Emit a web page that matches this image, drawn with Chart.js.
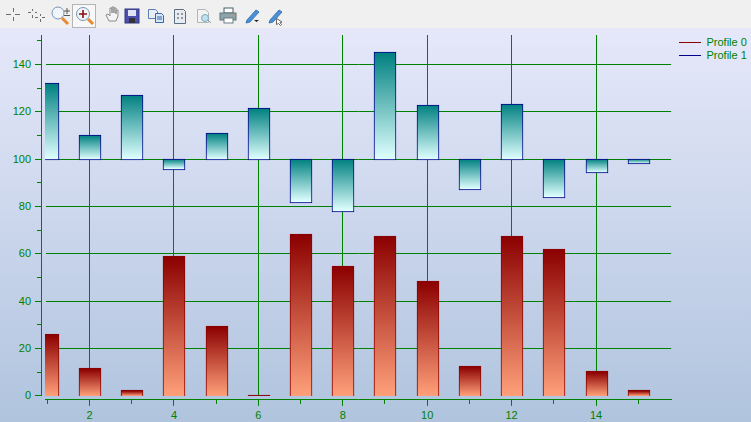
<!DOCTYPE html>
<html>
<head>
<meta charset="utf-8">
<title>Profiles</title>
<script src="https://cdn.jsdelivr.net/npm/chart.js@4/dist/chart.umd.min.js"></script>
<style>
	html, body { margin: 0; padding: 0; background: #f0f0f0; overflow: hidden; }
	#wrapper { position: relative; width: 751px; height: 422px; }
	#toolbar { position: absolute; left: 0; top: 0; }
	canvas { position: absolute; left: 0; top: 0; }
</style>
</head>
<body>
<div id="wrapper">
	<canvas id="grafico" width="751" height="422"></canvas>
	<svg id="toolbar" width="751" height="28" viewBox="0 0 751 28">
		<rect x="0" y="0" width="751" height="28" fill="#f0f0f0"/>
		<!-- cursori -->
		<g stroke="#6e6e6e" stroke-width="1" fill="none">
			<path d="M6 14.5h5M15 14.5h5M13.5 8v4M13.5 17v4"/>
			<path d="M28 12.5h3M35 12.5h2M32.5 9v2M32.5 15v3M35 17.5h3M42 17.5h3M40.5 14v2M40.5 19v3"/>
		</g>
		<!-- zoom -->
		<circle cx="58" cy="13" r="6" fill="#eef5fb" stroke="#7c95b0"/>
		<path d="M62 18l6 6" stroke="#e88a2e" stroke-width="3"/>
		<path d="M64 11h6M67 8v6M64 15.5h6" stroke="#555" fill="none"/>
		<rect x="72.5" y="4.5" width="23" height="23" fill="#f8f8f8" stroke="#b4b4b4"/>
		<circle cx="83" cy="14" r="6.5" fill="#eef5fb" stroke="#7c95b0"/>
		<path d="M79 14h8M83 10v8" stroke="#8b1010" stroke-width="1.6"/>
		<path d="M88 19l5 5" stroke="#e88a2e" stroke-width="3"/>
		<!-- mano -->
		<path d="M106 15l3 6h7l2-5v-6h-2v4-6h-2v5-6h-2v6-5h-2v8l-2-2z" fill="#f4f4f4" stroke="#8a8a8a"/>
		<!-- salva -->
		<rect x="125" y="9" width="14" height="14" fill="#4a4fb0" stroke="#33367f"/>
		<rect x="128" y="10" width="8" height="6" fill="#dfe3f5"/>
		<rect x="129" y="18" width="6" height="5" fill="#333"/>
		<!-- copia -->
		<path d="M148.5 9.5h7l2 2v7h-9z" fill="#e8eef8" stroke="#5a7fb0"/>
		<path d="M155.5 13.5h6l2 2v7h-8z" fill="#d8e6f6" stroke="#2f69b0"/>
		<path d="M157 17h5M157 19h5" stroke="#2f69b0"/>
		<!-- documento -->
		<path d="M174.5 9.5h9l2 2v12h-11z" fill="#e6ecf2" stroke="#5b6d80"/>
		<path d="M177 14h2M181 14h2M177 18h2M181 18h2" stroke="#444"/>
		<!-- anteprima -->
		<path d="M197.5 9.5h8l3 3v10h-11z" fill="#f2f2f2" stroke="#b5b5b5"/>
		<circle cx="205" cy="18" r="3.5" fill="#bfe0ef" stroke="#7fa9bb"/>
		<path d="M208 20l3 3" stroke="#8aa0aa"/>
		<!-- stampa -->
		<rect x="224" y="8" width="9" height="5" fill="#fff" stroke="#44606a"/>
		<rect x="220" y="13" width="16" height="7" fill="#8ea4a8" stroke="#5f777c"/>
		<rect x="224" y="18" width="9" height="5" fill="#fff" stroke="#6b7f83"/>
		<rect x="233" y="14" width="2" height="1" fill="#e88a2e"/>
		<!-- matite -->
		<path d="M247 20l9-10 3 2-9 10-4 1z" fill="#4a90d8" stroke="#3f78b4"/>
		<path d="M254 20h5l-2.500 2z" fill="#222"/>
		<path d="M270 20l9-10 3 2-9 10-4 1z" fill="#4a90d8" stroke="#3f78b4"/>
		<path d="M276.500 18.500v6l2-1 2 2 1-1-1.500-2 2-.5z" fill="#fff" stroke="#666"/>
	</svg>
</div>
<script>
"use strict";

const categorie = [1, 2, 3, 4, 5, 6, 7, 8, 9, 10, 11, 12, 13, 14, 15];
const profile0 = [25.8, 11.4, 2.1, 58.8, 29.2, 0.3, 68, 54.5, 67.4, 48.2, 12.3, 67.4, 61.7, 10.1, 2.1];
const profile1 = [132, 110, 127.1, 96, 110.8, 121.4, 82.1, 78.2, 145, 122.8, 87.5, 123.3, 84.1, 94.4, 98.2];
const baseProfile1 = 100;

const xTicks = [2, 4, 6, 8, 10, 12, 14];
const xMinorTicks = [1, 3, 5, 7, 9, 11, 13, 15];
const yTicks = [0, 20, 40, 60, 80, 100, 120, 140];
const yMinorTicks = [10, 30, 50, 70, 90, 110, 130, 150];

const VERDE = "#008000";

// gradiente verticale sulla barra, scuro in alto e chiaro in basso
function gradiente(context, da, a, scuro, chiaro) {
	const chart = context.chart;
	if (!chart.chartArea || context.dataIndex === undefined) return scuro;
	const y = chart.scales.y;
	const alto = y.getPixelForValue(Math.max(da, a));
	const basso = y.getPixelForValue(Math.min(da, a));
	// barra quasi piatta: resta solo la linea scura
	if (basso - alto < 2) return scuro;
	const g = chart.ctx.createLinearGradient(0, alto, 0, basso);
	g.addColorStop(0, scuro);
	g.addColorStop(1, chiaro);
	return g;
}

// le scale stanno staccate dall'area del grafico, come nell'originale
const spostaAssi = {
	id: "spostaAssi",
	afterLayout(chart) {
		const s = chart.scales;
		s.x.top += 4;
		s.x.bottom += 4;
		s.xMinor.top = s.x.top;
		s.xMinor.bottom = s.x.top;
		s.y.left -= 4;
		s.y.right -= 4;
		s.yMinor.left = s.y.right;
		s.yMinor.right = s.y.right;
		const legend = chart.legend;
		const dx = 677 - legend.left;
		legend.left += dx;
		legend.right += dx;
		for (const box of legend.legendHitBoxes) box.left += dx;
	}
};

// bordi delle barre sui pixel interi, senza sfocature
// la base arriva gia' spostata di mezza griglia da chart.js, qui si riporta indietro
const barreNette = {
	id: "barreNette",
	afterDatasetsUpdate(chart) {
		chart.getSortedVisibleDatasetMetas().forEach(meta => {
			meta.data.forEach(bar => {
				bar.x = Math.round(bar.x + 0.5);
				if (bar.y < bar.base) {
					bar.y = Math.floor(bar.y);
					bar.base = Math.ceil(bar.base + 0.5);
				} else {
					bar.y = Math.ceil(bar.y);
					bar.base = Math.floor(bar.base - 0.5);
				}
			});
		});
	}
};

const sfondo = {
	id: "sfondo",
	beforeDraw(chart) {
		const ctx = chart.ctx;
		const g = ctx.createLinearGradient(0, 28, 0, 422);
		g.addColorStop(0, "#e6e8fa");
		g.addColorStop(1, "#b0c4de");
		ctx.save();
		ctx.fillStyle = g;
		ctx.fillRect(0, 0, chart.width, chart.height);
		ctx.restore();
	}
};

function impostaTicks(valori) {
	return function (scale) {
		scale.ticks = valori.map(v => ({ value: v }));
	};
}

const canvas = document.getElementById("grafico");
canvas.getContext("2d", { alpha: false });

const chart = new Chart(canvas, {
	type: "bar",
	plugins: [sfondo, spostaAssi, barreNette],
	data: {
		labels: categorie,
		datasets: [
			{
				label: "Profile 0",
				data: profile0,
				grouped: false,
				clip: 0,
				barThickness: 22,
				borderWidth: 1,
				borderColor: "#8b0000",
				borderSkipped: "bottom",
				backgroundColor: c => gradiente(c, 0, profile0[c.dataIndex], "#8b0000", "#ffa07a")
			},
			{
				label: "Profile 1",
				data: profile1.map(v => [baseProfile1, v]),
				grouped: false,
				clip: 0,
				barThickness: 22,
				borderWidth: 1,
				borderColor: "#00008b",
				borderSkipped: false,
				backgroundColor: c => gradiente(c, baseProfile1, profile1[c.dataIndex], "#008080", "#e0ffff")
			}
		]
	},
	options: {
		responsive: false,
		animation: false,
		events: [],
		layout: { padding: { top: 35, right: 0, left: 0, bottom: 0 } },
		plugins: {
			tooltip: { enabled: false },
			legend: {
				position: "right",
				align: "start",
				onClick: null,
				labels: {
					color: VERDE,
					font: { family: "Liberation Sans", size: 11 },
					boxWidth: 22,
					boxHeight: 1,
					padding: 2,
					generateLabels: () => [
						{ text: "Profile 0", fillStyle: "#8b0000", strokeStyle: "#8b0000", lineWidth: 0, fontColor: VERDE },
						{ text: "Profile 1", fillStyle: "#00008b", strokeStyle: "#00008b", lineWidth: 0, fontColor: VERDE }
					]
				}
			}
		},
		scales: {
			x: {
				type: "linear",
				position: "bottom",
				offset: false,
				min: 0.945,
				max: 15.78,
				afterBuildTicks: impostaTicks(xTicks),
				afterFit: s => { s.height = 26.1; },
				border: { color: VERDE, width: 1 },
				grid: { offset: false, color: VERDE, tickColor: VERDE, tickLength: 6, lineWidth: 1 },
				ticks: {
					color: VERDE,
					font: { family: "Liberation Sans", size: 11 },
					padding: 3,
					maxRotation: 0,
					autoSkip: false,
					callback: v => String(v)
				}
			},
			xMinor: {
				type: "linear",
				axis: "x",
				position: "bottom",
				offset: false,
				min: 0.945,
				max: 15.78,
				afterBuildTicks: impostaTicks(xMinorTicks),
				afterFit: s => { s.height = 0; },
				border: { display: false },
				grid: { offset: false, drawOnChartArea: false, tickColor: VERDE, tickLength: 4 },
				ticks: { display: false, autoSkip: false }
			},
			y: {
				type: "linear",
				position: "left",
				min: 0,
				max: 152.47,
				afterBuildTicks: impostaTicks(yTicks),
				afterFit: s => { s.width = 45; },
				border: { color: VERDE, width: 1 },
				grid: {
					color: c => (c.tick && c.tick.value === 0 ? "rgba(0,0,0,0)" : VERDE),
					tickColor: VERDE,
					tickLength: 6,
					lineWidth: 1
				},
				ticks: {
					color: VERDE,
					font: { family: "Liberation Sans", size: 11 },
					padding: 4,
					labelOffset: 0.5,
					autoSkip: false,
					callback: v => String(v)
				}
			},
			yMinor: {
				type: "linear",
				axis: "y",
				position: "left",
				min: 0,
				max: 152.47,
				afterBuildTicks: impostaTicks(yMinorTicks),
				afterFit: s => { s.width = 0; },
				border: { display: false },
				grid: { drawOnChartArea: false, tickColor: VERDE, tickLength: 4 },
				ticks: { display: false, autoSkip: false }
			}
		}
	}
});
</script>
</body>
</html>
